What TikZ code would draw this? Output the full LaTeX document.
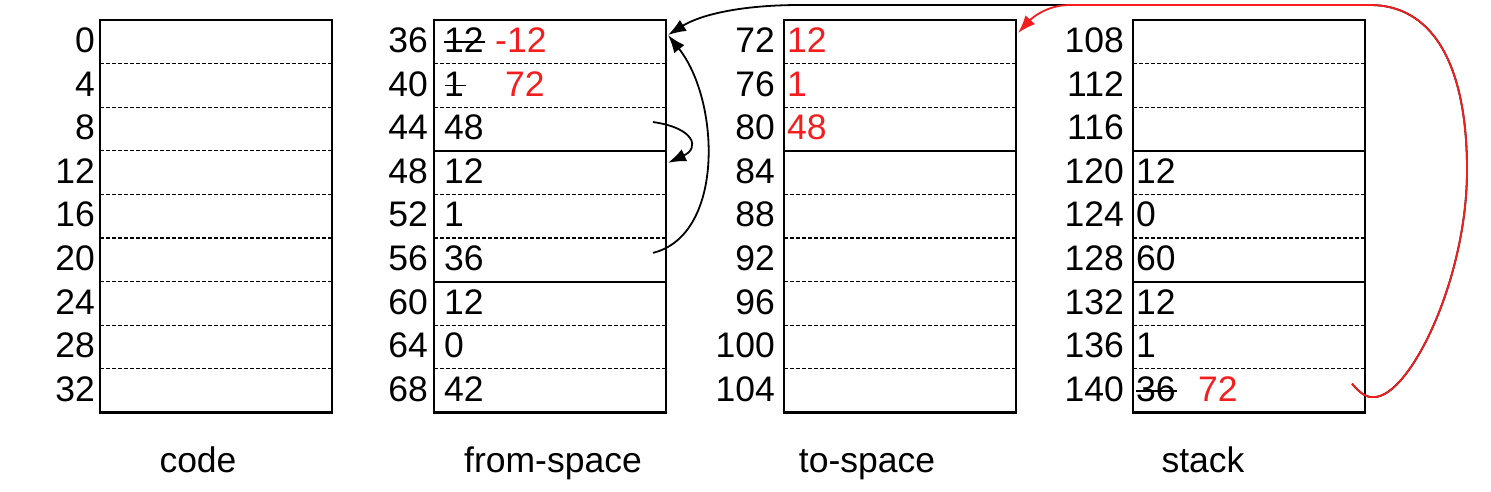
\documentclass[tikz,border=0pt]{standalone}
\usepackage{fontspec}
\setmainfont{Liberation Sans}
\usetikzlibrary{arrows.meta,calc}
\definecolor{myred}{RGB}{245,30,30}
\begin{document}
\begin{tikzpicture}[x=1pt,y=-1pt,
  font=\fontsize{35.5}{40}\selectfont,
  cell/.style={minimum width=232pt,minimum height=43.61pt,inner sep=0pt,outer sep=0pt,anchor=north west},
  lbl/.style={inner sep=0pt,anchor=base east},
  val/.style={inner sep=0pt,anchor=base west},
  rval/.style={val,text=myred},
  box/.style={line width=2.2pt},
  sepdot/.style={line width=1.2pt,dash pattern=on 3.5pt off 2.5pt},
  sepsolid/.style={line width=2.2pt},
  strikeln/.style={line width=1.5pt},
  ptr/.style={line width=1.8pt,-{Latex[length=18pt,width=13pt]}},
  rptr/.style={ptr,draw=myred}]
\useasboundingbox (0,0) rectangle (1491,491);

% cells and address labels
\foreach \x/\nm/\base/\off in {100/c/0/5, 434/f/36/6, 784/t/72/9, 1133/s/108/9} {
  \foreach \i in {0,...,8} {
    \pgfmathsetmacro\yy{20+\i*43.61}
    \pgfmathtruncatemacro\lab{\base+4*\i}
    \node[cell] (\nm\i) at (\x,\yy) {};
    \node[lbl] (l\nm\i) at ($(\nm\i.north west)+(-\off,32.5)$) {\lab};
  }
}

% separators
\foreach \nm/\solids in {c/{99}, f/{2,5}, t/{2}, s/{2,5}} {
  \foreach \i in {0,...,7} {
    \foreach \k in \solids {\ifnum\k=\i\global\def\stg{1}\fi}
    \ifx\stg\undefined
      \draw[sepdot] (\nm\i.south west) -- (\nm\i.south east);
    \else
      \draw[sepsolid] (\nm\i.south west) -- (\nm\i.south east);
      \global\let\stg\undefined
    \fi
  }
  \draw[box] (\nm0.north west) rectangle (\nm8.south east);
}

% from-space values
\node[val] (vf0) at ($(f0.north west)+(10,32.5)$) {12};
\draw[strikeln] ($(vf0.base west)+(0,-10.5)$) -- ($(vf0.base east)+(1,-10.5)$);
\node[rval] (rf0) at ($(f0.north west)+(61,32.5)$) {-12};
\node[val] (vf1) at ($(f1.north west)+(10,32.5)$) {1};
\draw[strikeln] ($(vf1.base west)+(1,-10.5)$) -- ($(vf1.base east)+(2,-10.5)$);
\node[rval] (rf1) at ($(f1.north west)+(71,32.5)$) {72};
\node[val] (vf2) at ($(f2.north west)+(10,32.5)$) {48};
\node[val] (vf3) at ($(f3.north west)+(10,32.5)$) {12};
\node[val] (vf4) at ($(f4.north west)+(10,32.5)$) {1};
\node[val] (vf5) at ($(f5.north west)+(10,32.5)$) {36};
\node[val] (vf6) at ($(f6.north west)+(10,32.5)$) {12};
\node[val] (vf7) at ($(f7.north west)+(10,32.5)$) {0};
\node[val] (vf8) at ($(f8.north west)+(10,32.5)$) {42};

% to-space values
\node[rval] (vt0) at ($(t0.north west)+(3,32.5)$) {12};
\node[rval] (vt1) at ($(t1.north west)+(3,32.5)$) {1};
\node[rval] (vt2) at ($(t2.north west)+(3,32.5)$) {48};

% stack values
\node[val] (vs3) at ($(s3.north west)+(3,32.5)$) {12};
\node[val] (vs4) at ($(s4.north west)+(3,32.5)$) {0};
\node[val] (vs5) at ($(s5.north west)+(3,32.5)$) {60};
\node[val] (vs6) at ($(s6.north west)+(3,32.5)$) {12};
\node[val] (vs7) at ($(s7.north west)+(3,32.5)$) {1};
\node[val] (vs8) at ($(s8.north west)+(3,32.5)$) {36};
\draw[strikeln] ($(vs8.base west)+(0,-10.5)$) -- ($(vs8.base east)+(1,-10.5)$);
\node[rval] (rs8) at ($(s8.north west)+(65,32.5)$) {72};

% captions
\node[inner sep=0pt,anchor=base] (capc) at (198,472) {code};
\node[inner sep=0pt,anchor=base] (capf) at (553,472) {from-space};
\node[inner sep=0pt,anchor=base] (capt) at (867,472) {to-space};
\node[inner sep=0pt,anchor=base] (caps) at (1203,472) {stack};

% pointer ends
\coordinate (p44) at ($(f2.east)+(-13,-7)$);
\coordinate (p56) at ($(f5.east)+(-13,-7)$);
\coordinate (p140) at ($(s8.east)+(-13,-7)$);
\coordinate (tip36) at ($(f0.north east)+(2,15)$);
\coordinate (tip48) at ($(f3.north east)+(2,12)$);
\coordinate (tip72) at ($(t0.north east)+(2,13)$);

% pointers
\draw[ptr] (p44) .. controls (695,128) and (700,148) .. (tip48);
\draw[ptr] (p56) .. controls (725,235) and (720,100) .. (tip36);
\draw[ptr] (p140) .. controls (1360,393) and (1366,398) .. (1375,397)
  .. controls (1410,395) and (1467,280) .. (1467,170)
  .. controls (1467,60) and (1430,5) .. (1370,5)
  -- (800,5) .. controls (740,5) and (700,15) .. (tip36);
\draw[rptr] (p140) .. controls (1360,393) and (1366,398) .. (1375,397)
  .. controls (1410,395) and (1467,280) .. (1467,170)
  .. controls (1467,60) and (1430,5) .. (1370,5)
  -- (1070,5) .. controls (1045,5) and (1030,20) .. (tip72);
\end{tikzpicture}
\end{document}
